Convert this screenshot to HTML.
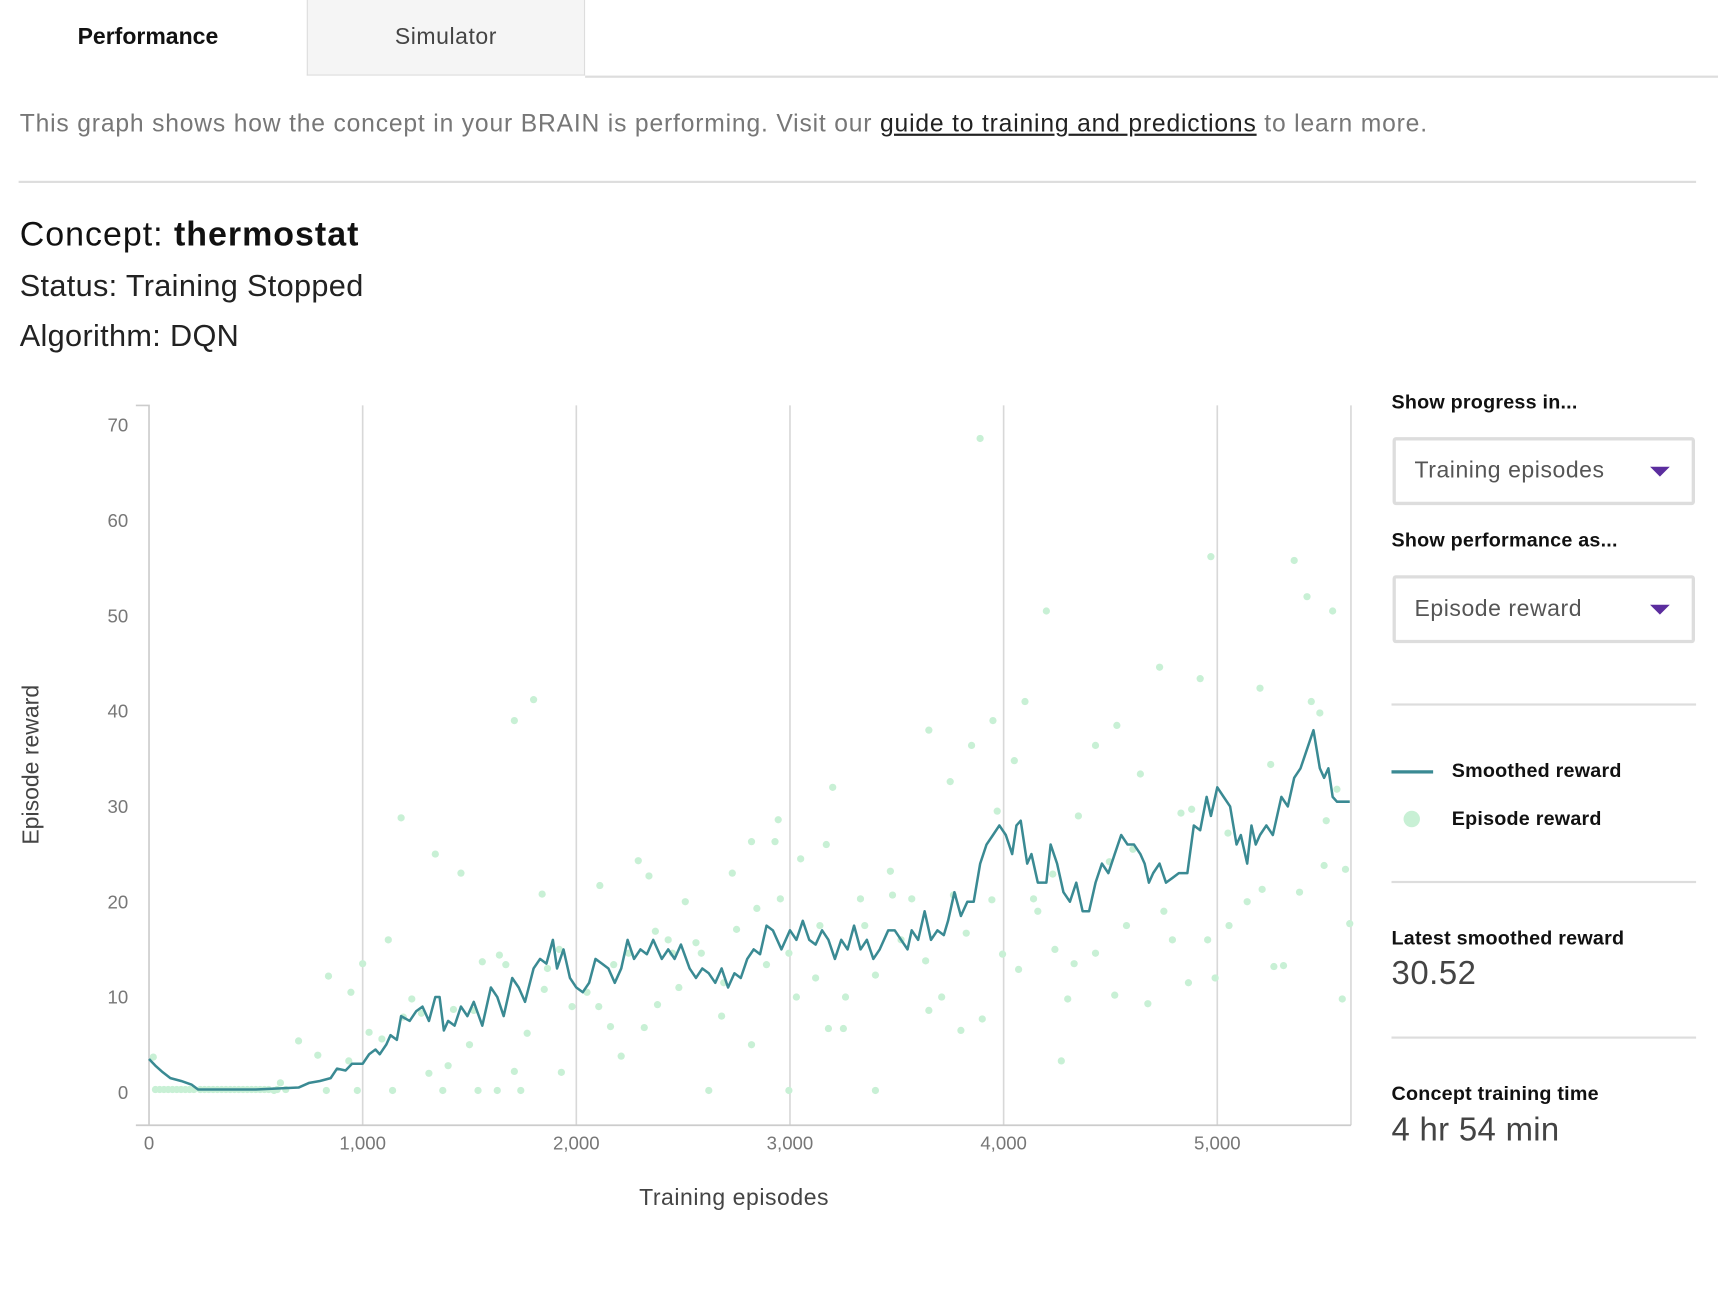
<!DOCTYPE html>
<html><head><meta charset="utf-8">
<style>
html,body{margin:0;padding:0;background:#fff;}
body{width:1718px;height:1292px;overflow:hidden;font-family:"Liberation Sans",sans-serif;}
#wrap{position:absolute;left:0;top:0;width:1568px;height:1179px;transform:scale(1.09566);transform-origin:0 0;}
.abs{position:absolute;white-space:nowrap;}
.hr{position:absolute;height:2px;background:#ddd;}
.dd{position:absolute;left:1271px;width:270px;height:56px;border:3px solid #ddd;border-radius:3px;box-sizing:content-box;}
.dd span{position:absolute;left:17px;top:16px;font-size:21px;color:#555;letter-spacing:0.5px;}
.dd i{position:absolute;right:20px;top:24px;width:0;height:0;border-left:9px solid transparent;border-right:9px solid transparent;border-top:9px solid #5b2d9e;}
.lab{font-size:18px;font-weight:bold;color:#111;letter-spacing:0.2px;}
</style></head><body>
<div id="wrap">
<div class="abs" style="left:0;top:0;width:270px;height:70px;line-height:68px;text-align:center;font-size:21px;font-weight:bold;color:#111;">Performance</div>
<div class="abs" style="left:280px;top:0;width:252px;height:68px;line-height:68px;text-align:center;font-size:21px;color:#444;background:#f5f5f5;border:1px solid #ddd;border-top:none;letter-spacing:0.5px;">Simulator</div>
<div class="abs" style="left:534px;top:69px;width:1034px;height:2px;background:#ddd;"></div>
<div class="abs" style="left:18px;top:100px;font-size:22.5px;color:#777;letter-spacing:0.75px;">This graph shows how the concept in your BRAIN is performing. Visit our <a style="color:#222;text-decoration:underline;">guide to training and predictions</a> to learn more.</div>
<div class="hr" style="left:17px;top:165px;width:1531px;"></div>
<div class="abs" style="left:18px;top:196px;font-size:31px;color:#111;letter-spacing:0.9px;">Concept: <b>thermostat</b></div>
<div class="abs" style="left:18px;top:245px;font-size:28px;color:#222;letter-spacing:0.3px;">Status: Training Stopped</div>
<div class="abs" style="left:18px;top:291px;font-size:28px;color:#222;letter-spacing:0.3px;">Algorithm: DQN</div>

<div class="abs lab" style="left:1270px;top:357px;">Show progress in...</div>
<div class="dd" style="top:399px;"><span>Training episodes</span><i></i></div>
<div class="abs lab" style="left:1270px;top:483px;">Show performance as...</div>
<div class="dd" style="top:525px;"><span>Episode reward</span><i></i></div>
<div class="hr" style="left:1270px;top:642px;width:278px;"></div>
<div class="abs" style="left:1270px;top:703px;width:38px;height:3px;background:#3a8a93;"></div>
<div class="abs lab" style="left:1325px;top:693px;">Smoothed reward</div>
<div class="abs" style="left:1281px;top:740px;width:15px;height:15px;border-radius:50%;background:#c8f0d5;"></div>
<div class="abs lab" style="left:1325px;top:737px;">Episode reward</div>
<div class="hr" style="left:1270px;top:804px;width:278px;"></div>
<div class="abs lab" style="left:1270px;top:846px;">Latest smoothed reward</div>
<div class="abs" style="left:1270px;top:872px;font-size:30px;color:#444;letter-spacing:0.5px;">30.52</div>
<div class="hr" style="left:1270px;top:946px;width:278px;"></div>
<div class="abs lab" style="left:1270px;top:988px;">Concept training time</div>
<div class="abs" style="left:1270px;top:1015px;font-size:30px;color:#444;letter-spacing:0.3px;">4 hr 54 min</div>

<svg id="chart" style="position:absolute;left:0;top:0;" width="1568" height="1179"></svg>
</div>
<script>
const xTicks=[0,1000,2000,3000,4000,5000];
const xTickLabels=["0","1,000","2,000","3,000","4,000","5,000"];
const yTicks=[0,10,20,30,40,50,60,70];
const smoothEp=[0,30,60,100,150,200,230,300,400,500,600,700,750,800,850,880,920,950,1000,1030,1060,1080,1110,1130,1160,1180,1220,1250,1280,1310,1340,1360,1380,1400,1430,1460,1490,1520,1560,1600,1630,1660,1700,1730,1760,1800,1830,1860,1890,1910,1940,1970,2000,2030,2060,2090,2120,2150,2180,2210,2240,2270,2300,2330,2360,2400,2430,2460,2490,2530,2560,2590,2620,2650,2680,2710,2740,2770,2800,2830,2860,2890,2920,2960,3000,3030,3060,3090,3120,3150,3180,3210,3240,3270,3300,3330,3360,3390,3420,3460,3490,3520,3550,3570,3600,3630,3660,3690,3720,3740,3770,3800,3830,3860,3890,3920,3950,3980,4010,4040,4060,4080,4110,4130,4160,4200,4220,4250,4280,4310,4340,4370,4400,4430,4460,4490,4520,4550,4580,4610,4640,4660,4680,4700,4730,4760,4790,4820,4860,4890,4920,4950,4970,5000,5030,5060,5090,5110,5140,5160,5180,5200,5230,5260,5300,5330,5360,5390,5420,5450,5480,5500,5520,5540,5560,5620];
const smoothVal=[3.5,2.8,2.2,1.5,1.2,0.8,0.3,0.3,0.3,0.3,0.4,0.5,1,1.2,1.5,2.5,2.3,3,3,4,4.5,4,5,6,5.5,8,7.5,8.5,9,7.5,10,10,6.5,7.5,7,9,8,9.5,7,11,10,8,12,11,9.5,13,14,13.5,16,13,15,12,11,10.5,11.5,14,13.5,13,11.5,13,16,14,15,14.5,16,14,15,14,15.5,13,12,13,12.5,11.5,13,11,12.5,12,14,15,14.5,17.5,17,15,17,16,18,16,15.5,17,16,14,16,15,17.5,15,16,14,15,17,17,16,15,17,16,19,16,17,16.5,18,21,18.5,20,20,24,26,27,28,27,25,28,28.5,24,25,22,22,26,24,21,20,22,19,19,22,24,23,25,27,26,26,25,24,22,23,24,22,22.5,23,23,28,27.5,31,29,32,31,30,26,27,24,28,26,27,28,27,31,30,33,34,36,38,34,33,34,31,30.5,30.5];
const epEp=[20,30,50,70,90,110,130,150,170,190,210,240,260,280,300,320,340,360,380,400,420,440,460,480,500,520,540,560,600,640,840,945,1000,1120,1180,1340,1460,1710,1800,1840,2110,2290,2340,2430,2510,2730,2820,2930,2945,3050,3170,3200,2995,2620,3350,3470,3650,3750,3850,3890,3950,3970,4050,4100,4200,4270,4350,4430,4530,4640,4730,4830,4920,4970,5050,5200,5250,5360,5420,5440,5480,5540,5560,5585,5600,5620,5265,5310,4990,4520,4300,3900,3800,3650,3400,3250,3180,3030,2820,2680,2210,2160,1930,1710,1630,1740,1540,1375,1310,1140,975,830,700,585,1400,1500,1560,1670,1770,1865,1980,2105,2318,2380,2480,2585,2690,2890,2995,3120,3260,3400,3520,3635,3710,3825,3995,4070,4160,4240,4330,4430,4575,4675,4790,4865,4955,5055,5140,5210,5385,5500,5510,4880,4750,4605,4495,4230,4140,3945,3765,3570,3480,3330,3140,2955,2845,2750,2560,2450,2370,2245,2175,2050,1920,1850,1640,1520,1425,1275,1230,1190,1090,1030,935,790,615];
const epVal=[3.7,0.3,0.3,0.3,0.3,0.3,0.3,0.3,0.3,0.3,0.3,0.3,0.3,0.3,0.3,0.3,0.3,0.3,0.3,0.3,0.3,0.3,0.3,0.3,0.3,0.3,0.3,0.3,0.3,0.3,12.2,10.5,13.5,16,28.8,25,23,39,41.2,20.8,21.7,24.3,22.7,16,20,23,26.3,26.3,28.6,24.5,26,32,0.2,0.2,17.5,23.2,38,32.6,36.4,68.6,39,29.5,34.8,41,50.5,3.3,29,36.4,38.5,33.4,44.6,29.3,43.4,56.2,27.2,42.4,34.4,55.8,52,41,39.8,50.5,31.8,9.8,23.4,17.7,13.2,13.3,12,10.2,9.8,7.7,6.5,8.6,0.2,6.7,6.7,10,5,8,3.8,6.9,2.1,2.2,0.2,0.2,0.2,0.2,2,0.2,0.2,0.2,5.4,0.2,2.8,5,13.7,13.4,6.2,13,9,9,6.8,9.2,11,14.6,11.5,13.4,14.6,12,10,12.3,16,13.8,10,16.7,14.5,12.9,19,15,13.5,14.6,17.5,9.3,16,11.5,16,17.5,20,21.3,21,23.8,28.5,29.7,19,25.5,24.2,22.9,20.3,20.2,20.7,20.3,20.7,20.3,17.5,20.3,19.3,17.1,15.7,14.6,16.9,14.6,13.4,10.5,15,10.8,14.4,8.6,8.7,8.3,9.8,7.9,5.6,6.3,3.3,3.9,1];

const NS="http://www.w3.org/2000/svg";
const svg=document.getElementById('chart');
const X0=136,X1=1233,Y0=997,YPER=8.7,XMAX=(X1-X0)/0.195;
const xs=v=>X0+v*0.195;
const ys=v=>Y0-v*YPER;
function mk(tag,attrs,parent){const e=document.createElementNS(NS,tag);for(const k in attrs)e.setAttribute(k,attrs[k]);(parent||svg).appendChild(e);return e;}

xTicks.forEach((t,i)=>{
  if(t>0){const g=mk('line',{x1:xs(t),x2:xs(t),y1:370,y2:1027,stroke:'#d8d8d8','stroke-width':1.5});
  
  }
  const l=mk('text',{x:xs(t),y:1049,'text-anchor':'middle','font-size':17,fill:'#777','font-family':'Liberation Sans, sans-serif'});
  l.textContent=xTickLabels[i];
  
  
});
const re=mk('line',{x1:X1,x2:X1,y1:370,y2:1027,stroke:'#d8d8d8','stroke-width':1.5});


yTicks.forEach(t=>{
  const l=mk('text',{x:117,y:ys(t)+6,'text-anchor':'end','font-size':17,fill:'#777','font-family':'Liberation Sans, sans-serif'});
  l.textContent=String(t);
  
  
});
const ya=mk('path',{d:'M124 370 H136 V1027',fill:'none',stroke:'#ccc','stroke-width':1.5});


const xa=mk('path',{d:'M124 1027 H1233',fill:'none',stroke:'#ccc','stroke-width':1.5});



epEp.forEach((e,i)=>{
  const c=mk('circle',{cx:xs(e),cy:ys(epVal[i]),r:3.3,fill:'#c8f0d5'});
  
  
});
let d='';
smoothEp.forEach((e,i)=>{d+=(i?'L':'M')+xs(Math.min(e,XMAX)).toFixed(1)+' '+ys(smoothVal[i]).toFixed(1);});
const p=mk('path',{d:d,fill:'none',stroke:'#3a8a93','stroke-width':2.3,'stroke-linejoin':'round'});



const xt=mk('text',{x:670,y:1100,'text-anchor':'middle','font-size':21,fill:'#444','font-family':'Liberation Sans, sans-serif','letter-spacing':0.5});
xt.textContent='Training episodes';


const yt=mk('text',{x:0,y:0,'text-anchor':'middle','font-size':21,fill:'#444','font-family':'Liberation Sans, sans-serif',transform:'translate(35,698) rotate(-90)'});
yt.textContent='Episode reward';


</script>
</body></html>
